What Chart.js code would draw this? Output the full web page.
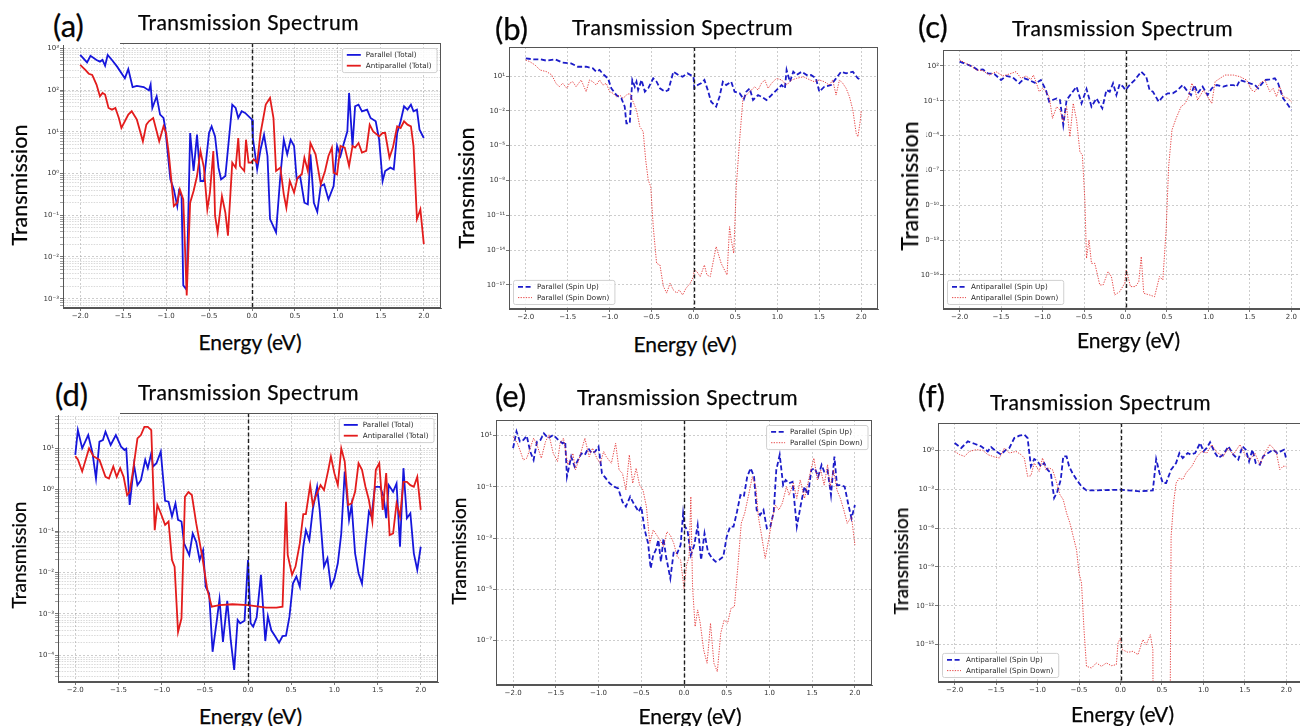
<!DOCTYPE html>
<html>
<head>
<meta charset="utf-8">
<script src="https://cdn.jsdelivr.net/npm/chart.js@4.4.1/dist/chart.umd.min.js"></script>
<style>
  html, body { margin: 0; padding: 0; background: #fff; }
  body { width: 1300px; height: 726px; overflow: hidden; position: relative; }
  canvas { position: absolute; }
  .lbl { position: absolute; white-space: nowrap; line-height: 1; color: #050505;
         font-family: Lato, "Open Sans", sans-serif; box-sizing: border-box;
         -webkit-text-stroke: 0.25px #050505; }
  .letter { background: #fff; }
  .ylab { background: #fff; transform: translate(-50%, -50%) rotate(-90deg); }
  .xlab { transform: translateX(-50%); }
</style>
</head>
<body>
<script>
// Energy axis ticks (eV)
const energyTicks = [-2.0, -1.5, -1.0, -0.5, 0.0, 0.5, 1.0, 1.5, 2.0];

// Transmission curves: [energy (eV), log10 T]
// (a) total transmission
const totalParallelA = [[-2.00,2.84],[-1.92,2.66],[-1.88,2.82],[-1.81,2.72],[-1.77,2.68],[-1.74,2.72],[-1.71,2.58],[-1.68,2.84],[-1.63,2.72],[-1.57,2.56],[-1.48,2.28],[-1.44,2.50],[-1.39,2.07],[-1.34,2.10],[-1.26,2.07],[-1.20,1.99],[-1.18,2.13],[-1.16,1.57],[-1.11,1.85],[-1.07,1.41],[-1.03,1.33],[-1.01,1.09],[-0.95,-0.14],[-0.91,-0.38],[-0.87,-0.78],[-0.85,-0.42],[-0.82,-0.54],[-0.80,-2.68],[-0.77,-2.76],[-0.76,-2.68],[-0.72,0.97],[-0.68,0.06],[-0.64,0.93],[-0.60,-0.18],[-0.56,-0.18],[-0.50,0.97],[-0.47,1.13],[-0.43,0.89],[-0.39,0.14],[-0.36,-0.14],[-0.31,-0.06],[-0.23,1.65],[-0.19,1.57],[-0.16,1.33],[-0.12,1.49],[-0.08,1.45],[0.00,1.29],[0.01,0.85],[0.06,0.10],[0.10,0.58],[0.14,0.93],[0.18,0.42],[0.21,-1.09],[0.28,-1.41],[0.33,-0.06],[0.37,0.81],[0.41,0.46],[0.45,0.81],[0.49,0.66],[0.52,-0.14],[0.56,-0.06],[0.61,-0.70],[0.65,-0.74],[0.68,0.46],[0.72,-0.70],[0.76,-0.92],[0.80,-0.30],[0.84,-0.26],[0.89,-0.62],[0.95,-0.30],[0.99,0.66],[1.03,0.42],[1.07,0.73],[1.11,1.01],[1.13,1.93],[1.17,0.66],[1.20,1.61],[1.24,1.65],[1.28,1.49],[1.34,1.53],[1.38,1.33],[1.44,1.25],[1.48,0.81],[1.52,-0.18],[1.55,0.06],[1.61,0.14],[1.65,0.10],[1.69,0.97],[1.73,1.25],[1.77,1.61],[1.81,1.53],[1.85,1.65],[1.88,1.49],[1.92,1.53],[1.95,1.05],[2.00,0.85]];
const totalAntiA = [[-2.00,2.60],[-1.94,2.48],[-1.90,2.39],[-1.86,2.36],[-1.81,2.13],[-1.77,1.85],[-1.74,1.93],[-1.71,1.89],[-1.67,1.57],[-1.63,1.53],[-1.59,1.57],[-1.55,1.33],[-1.52,1.09],[-1.44,1.41],[-1.40,1.49],[-1.34,1.29],[-1.27,0.77],[-1.23,1.17],[-1.20,1.25],[-1.15,1.33],[-1.11,1.01],[-1.08,0.77],[-1.03,1.13],[-1.00,0.97],[-0.97,0.50],[-0.94,-0.14],[-0.91,-0.78],[-0.87,-0.70],[-0.84,-0.38],[-0.80,-0.62],[-0.76,-2.92],[-0.72,-0.70],[-0.68,-0.42],[-0.64,-0.06],[-0.60,0.54],[-0.56,0.14],[-0.52,-0.86],[-0.49,-0.46],[-0.45,0.54],[-0.43,-1.01],[-0.40,-1.41],[-0.35,-0.54],[-0.31,-0.94],[-0.28,-1.49],[-0.23,0.26],[-0.19,0.14],[-0.16,0.85],[-0.14,0.18],[-0.09,0.06],[-0.07,0.81],[-0.04,0.26],[-0.01,0.26],[0.02,0.34],[0.06,0.26],[0.10,0.97],[0.16,1.65],[0.21,1.81],[0.25,1.33],[0.28,0.06],[0.33,0.14],[0.37,-0.50],[0.40,-0.82],[0.44,-0.18],[0.49,-0.46],[0.53,-0.10],[0.58,-0.02],[0.61,0.38],[0.65,0.06],[0.68,0.73],[0.74,0.46],[0.80,-0.26],[0.85,0.06],[0.89,0.42],[0.93,0.62],[0.95,0.02],[0.99,-0.02],[1.03,0.66],[1.08,0.62],[1.13,0.18],[1.17,0.66],[1.20,0.62],[1.24,0.73],[1.28,0.50],[1.33,0.54],[1.37,1.17],[1.41,1.01],[1.48,0.89],[1.52,0.97],[1.55,0.97],[1.60,0.38],[1.64,0.62],[1.69,1.13],[1.73,1.09],[1.77,1.25],[1.81,1.17],[1.85,1.13],[1.88,0.66],[1.92,-1.09],[1.96,-0.86],[2.00,-1.69]];

// (b) parallel, spin resolved
const parallelUpB = [[-2.00,2.52],[-1.91,2.44],[-1.83,2.44],[-1.75,2.32],[-1.65,2.44],[-1.56,2.15],[-1.46,2.09],[-1.38,1.80],[-1.28,1.80],[-1.20,1.66],[-1.16,1.37],[-1.12,1.52],[-1.08,1.17],[-1.02,0.80],[-0.98,-0.06],[-0.92,-0.64],[-0.86,-0.92],[-0.82,-1.64],[-0.80,-3.08],[-0.76,-3.08],[-0.73,0.66],[-0.70,0.08],[-0.68,0.51],[-0.66,-0.21],[-0.62,0.66],[-0.58,-0.35],[-0.54,-0.06],[-0.48,0.80],[-0.44,0.51],[-0.40,-0.06],[-0.34,-0.35],[-0.30,-0.21],[-0.24,1.37],[-0.18,1.09],[-0.13,0.94],[-0.07,1.23],[0.00,0.94],[0.01,-0.06],[0.05,0.22],[0.09,0.37],[0.13,0.66],[0.17,-0.21],[0.21,-1.21],[0.27,-1.64],[0.31,-0.78],[0.35,0.51],[0.39,0.22],[0.45,0.51],[0.49,-0.35],[0.55,-0.49],[0.60,-1.01],[0.63,-0.35],[0.67,-0.06],[0.71,-1.07],[0.77,-0.64],[0.81,-0.78],[0.87,-1.07],[0.93,-0.64],[0.99,-0.21],[1.05,0.22],[1.09,-0.06],[1.11,1.52],[1.15,0.51],[1.19,1.37],[1.23,1.09],[1.29,1.37],[1.35,1.09],[1.40,1.09],[1.46,0.80],[1.50,-0.35],[1.56,0.08],[1.64,0.22],[1.70,0.80],[1.76,1.37],[1.82,1.23],[1.90,1.37],[1.96,0.80],[2.00,0.66]];
const parallelDownB = [[-2.00,2.38],[-1.95,2.23],[-1.89,1.95],[-1.83,1.52],[-1.75,1.37],[-1.69,1.09],[-1.64,0.37],[-1.60,0.08],[-1.56,0.37],[-1.51,-0.06],[-1.48,0.37],[-1.44,0.51],[-1.40,0.08],[-1.34,0.66],[-1.28,-0.35],[-1.24,0.66],[-1.20,0.51],[-1.16,0.22],[-1.12,0.66],[-1.08,0.22],[-1.04,0.37],[-1.00,-0.35],[-0.96,-0.49],[-0.92,-0.78],[-0.88,-0.64],[-0.84,-0.92],[-0.80,-0.64],[-0.76,-0.49],[-0.72,-1.21],[-0.68,-1.93],[-0.64,-3.36],[-0.60,-3.79],[-0.57,-6.24],[-0.54,-7.96],[-0.51,-8.53],[-0.48,-11.98],[-0.44,-15.14],[-0.40,-15.28],[-0.36,-17.10],[-0.32,-17.70],[-0.28,-16.86],[-0.24,-17.43],[-0.20,-17.70],[-0.17,-17.43],[-0.13,-17.86],[-0.09,-17.29],[-0.04,-16.86],[0.00,-16.28],[0.01,-15.71],[0.04,-15.85],[0.08,-16.28],[0.13,-15.28],[0.16,-16.14],[0.20,-16.28],[0.27,-13.70],[0.33,-15.14],[0.40,-16.14],[0.43,-11.98],[0.45,-13.13],[0.48,-14.27],[0.51,-8.53],[0.55,-4.51],[0.59,-0.92],[0.63,-0.64],[0.67,-0.35],[0.73,0.08],[0.77,-0.21],[0.81,0.37],[0.85,0.66],[0.89,-0.06],[0.93,0.37],[0.99,0.80],[1.05,0.66],[1.11,0.22],[1.17,0.66],[1.23,0.80],[1.31,0.94],[1.39,0.66],[1.44,0.51],[1.50,0.66],[1.56,0.51],[1.62,0.22],[1.66,0.66],[1.70,-0.64],[1.74,0.66],[1.78,0.37],[1.82,-0.06],[1.86,-0.78],[1.90,-1.93],[1.94,-3.94],[1.96,-4.23],[1.99,-2.79],[2.00,-1.93]];

// (c) antiparallel, spin resolved
const antiUpC = [[-2.00,2.37],[-1.92,2.17],[-1.84,1.94],[-1.78,1.66],[-1.72,1.71],[-1.66,1.37],[-1.58,1.31],[-1.50,0.79],[-1.44,1.14],[-1.36,1.02],[-1.28,0.51],[-1.22,0.94],[-1.16,0.79],[-1.08,0.51],[-1.02,0.79],[-0.96,-0.07],[-0.92,-1.07],[-0.88,-0.93],[-0.83,-0.79],[-0.79,-0.93],[-0.75,-3.08],[-0.71,-0.93],[-0.65,-0.35],[-0.59,0.22],[-0.53,-1.22],[-0.47,0.02],[-0.41,-1.50],[-0.35,-0.79],[-0.28,-1.65],[-0.23,-0.07],[-0.19,-0.21],[-0.15,0.51],[-0.11,-0.50],[-0.07,0.45],[-0.03,0.22],[0.00,-0.07],[0.05,0.36],[0.11,0.79],[0.19,1.51],[0.25,1.08],[0.29,-0.07],[0.33,-0.21],[0.40,-1.07],[0.45,-0.64],[0.51,-0.35],[0.57,-0.35],[0.63,-0.07],[0.69,0.36],[0.75,-0.21],[0.79,-0.50],[0.83,0.36],[0.87,-0.35],[0.93,0.22],[0.99,-0.50],[1.04,0.08],[1.10,0.36],[1.18,0.22],[1.24,0.36],[1.30,0.36],[1.34,0.22],[1.38,0.79],[1.44,0.65],[1.50,0.51],[1.56,0.36],[1.60,0.08],[1.68,0.79],[1.74,0.85],[1.80,0.94],[1.84,0.51],[1.90,-0.79],[1.96,-1.36],[2.00,-1.79]];
const antiDownC = [[-2.00,2.52],[-1.94,2.29],[-1.86,2.00],[-1.80,1.66],[-1.72,1.60],[-1.64,1.22],[-1.56,1.51],[-1.48,1.14],[-1.40,1.31],[-1.32,1.51],[-1.26,0.94],[-1.20,1.14],[-1.14,0.85],[-1.11,1.22],[-1.08,0.65],[-1.04,-0.21],[-1.00,0.08],[-0.96,-0.21],[-0.92,-0.64],[-0.88,-2.51],[-0.83,-1.50],[-0.79,-1.79],[-0.75,-2.79],[-0.71,-1.50],[-0.67,-4.09],[-0.63,-1.22],[-0.59,-2.65],[-0.55,-5.38],[-0.52,-5.67],[-0.49,-9.54],[-0.47,-14.57],[-0.44,-12.99],[-0.41,-15.00],[-0.37,-15.00],[-0.31,-16.86],[-0.27,-16.86],[-0.21,-15.71],[-0.17,-16.14],[-0.13,-17.72],[-0.07,-17.44],[-0.01,-16.72],[0.01,-15.57],[0.06,-17.00],[0.12,-17.00],[0.16,-16.58],[0.19,-14.42],[0.22,-17.58],[0.29,-17.72],[0.35,-17.87],[0.41,-16.14],[0.45,-16.43],[0.49,-12.13],[0.52,-6.67],[0.56,-3.51],[0.61,-2.51],[0.67,-1.50],[0.72,-1.22],[0.76,-0.64],[0.80,0.51],[0.83,0.08],[0.87,-0.93],[0.94,-0.07],[1.04,-1.22],[1.08,0.65],[1.14,0.94],[1.20,1.22],[1.30,1.22],[1.38,1.08],[1.46,0.79],[1.52,-0.07],[1.56,-0.21],[1.62,0.51],[1.68,0.79],[1.74,-0.21],[1.78,0.08],[1.82,-0.64],[1.86,0.22],[1.90,-0.64],[1.96,-0.79],[2.00,-1.07]];

// (d) total transmission
const totalParallelD = [[-2.00,0.84],[-1.97,1.44],[-1.92,1.00],[-1.85,1.32],[-1.80,0.88],[-1.76,0.27],[-1.72,1.16],[-1.68,1.20],[-1.65,1.40],[-1.59,1.08],[-1.53,1.32],[-1.47,1.04],[-1.43,0.96],[-1.41,0.99],[-1.37,-0.37],[-1.32,0.60],[-1.28,0.11],[-1.24,0.23],[-1.19,0.72],[-1.16,0.52],[-1.12,0.88],[-1.10,0.56],[-1.06,0.64],[-1.01,0.92],[-0.96,-0.27],[-0.92,-0.29],[-0.88,-0.65],[-0.84,-0.33],[-0.81,-0.73],[-0.77,-0.77],[-0.74,-1.30],[-0.68,-1.58],[-0.64,-1.06],[-0.60,-1.26],[-0.56,-1.70],[-0.52,-1.46],[-0.49,-2.35],[-0.45,-2.51],[-0.41,-3.92],[-0.36,-3.14],[-0.33,-2.65],[-0.29,-3.68],[-0.24,-2.69],[-0.20,-3.64],[-0.16,-4.36],[-0.12,-3.15],[-0.09,-3.23],[-0.04,-3.17],[0.00,-1.70],[0.03,-3.23],[0.06,-3.31],[0.10,-3.09],[0.15,-2.06],[0.20,-3.66],[0.23,-3.06],[0.27,-3.40],[0.32,-3.56],[0.36,-3.70],[0.40,-3.54],[0.44,-3.53],[0.48,-3.07],[0.52,-2.27],[0.56,-2.10],[0.60,-2.35],[0.64,-1.38],[0.67,-0.98],[0.71,-1.22],[0.75,-0.48],[0.80,0.07],[0.83,-0.49],[0.88,-1.86],[0.92,-1.66],[0.96,-2.35],[1.00,-2.15],[1.04,-1.78],[1.08,-1.06],[1.12,0.44],[1.17,-0.73],[1.20,-0.37],[1.24,-1.54],[1.28,-2.02],[1.32,-2.27],[1.36,-1.38],[1.40,-0.53],[1.43,-0.65],[1.47,0.07],[1.53,0.07],[1.57,-0.17],[1.60,-0.69],[1.63,0.11],[1.68,-0.05],[1.72,0.15],[1.76,-1.38],[1.80,0.52],[1.84,-0.69],[1.88,-0.57],[1.92,-1.54],[1.96,-1.94],[2.00,-1.38]];
const totalAntiD = [[-2.00,0.81],[-1.97,0.73],[-1.92,0.44],[-1.84,1.00],[-1.79,0.81],[-1.72,0.72],[-1.65,0.31],[-1.61,0.27],[-1.56,0.56],[-1.52,0.31],[-1.48,0.52],[-1.44,0.31],[-1.40,-0.13],[-1.37,-0.05],[-1.33,0.48],[-1.28,1.24],[-1.24,1.32],[-1.20,1.52],[-1.16,1.52],[-1.12,1.44],[-1.08,-0.98],[-1.05,-0.37],[-1.01,-0.57],[-0.96,-0.85],[-0.92,-0.77],[-0.88,-1.70],[-0.85,-1.86],[-0.81,-3.44],[-0.77,-3.11],[-0.73,-0.17],[-0.69,-0.06],[-0.65,-0.13],[-0.60,-0.81],[-0.53,-1.62],[-0.47,-2.43],[-0.42,-2.83],[-0.33,-2.79],[-0.18,-2.77],[0.00,-2.79],[0.21,-2.85],[0.33,-2.85],[0.40,-2.83],[0.44,-0.29],[0.46,-1.58],[0.51,-2.06],[0.55,-1.86],[0.60,-1.30],[0.64,-0.59],[0.67,-0.59],[0.72,0.11],[0.75,-0.37],[0.79,-0.13],[0.84,0.11],[0.88,-0.01],[0.93,0.48],[0.96,0.80],[1.00,0.40],[1.04,0.11],[1.08,1.00],[1.12,0.68],[1.16,-0.37],[1.20,-0.33],[1.24,-0.05],[1.28,0.64],[1.32,0.48],[1.36,0.07],[1.40,-0.25],[1.44,-0.77],[1.48,0.48],[1.52,0.64],[1.56,-0.49],[1.60,0.40],[1.64,-1.10],[1.68,-1.06],[1.72,-0.33],[1.76,-0.65],[1.80,0.19],[1.84,0.19],[1.88,0.11],[1.92,0.07],[1.96,0.31],[2.00,-0.49]];

// (e) parallel, spin resolved
const parallelUpE = [[-2.00,0.51],[-1.96,1.16],[-1.92,0.77],[-1.88,0.83],[-1.84,0.99],[-1.80,0.38],[-1.76,0.05],[-1.72,0.77],[-1.68,0.83],[-1.64,1.09],[-1.59,0.90],[-1.53,1.03],[-1.47,0.83],[-1.42,0.70],[-1.39,0.77],[-1.37,-0.60],[-1.32,0.18],[-1.28,-0.21],[-1.24,0.05],[-1.20,0.31],[-1.16,0.25],[-1.12,0.51],[-1.08,0.31],[-1.04,0.38],[-1.00,0.57],[-0.96,-0.47],[-0.93,-0.60],[-0.87,-0.86],[-0.82,-0.99],[-0.77,-1.06],[-0.72,-1.58],[-0.68,-1.77],[-0.63,-1.38],[-0.59,-1.64],[-0.53,-1.97],[-0.50,-1.77],[-0.46,-2.68],[-0.42,-3.20],[-0.39,-4.18],[-0.36,-3.66],[-0.33,-3.46],[-0.30,-3.07],[-0.27,-3.92],[-0.24,-3.01],[-0.21,-3.72],[-0.16,-4.57],[-0.12,-3.53],[-0.08,-3.59],[-0.04,-3.27],[-0.01,-2.03],[0.01,-2.55],[0.04,-2.68],[0.08,-3.66],[0.12,-3.27],[0.16,-2.49],[0.20,-3.85],[0.24,-2.81],[0.28,-3.53],[0.33,-3.79],[0.37,-3.92],[0.41,-3.85],[0.46,-3.72],[0.50,-2.94],[0.54,-2.55],[0.58,-2.55],[0.62,-1.97],[0.66,-1.32],[0.70,-1.38],[0.74,-0.60],[0.78,-0.27],[0.82,-0.60],[0.85,-1.90],[0.89,-2.10],[0.93,-1.90],[0.97,-2.62],[1.01,-2.55],[1.05,-1.97],[1.08,-0.34],[1.12,0.25],[1.16,-0.93],[1.19,-0.73],[1.23,-0.86],[1.27,-0.80],[1.32,-2.55],[1.37,-1.64],[1.41,-0.99],[1.45,-1.32],[1.49,-0.34],[1.53,-0.27],[1.57,-0.60],[1.61,-0.14],[1.64,-0.40],[1.68,-0.34],[1.72,-1.32],[1.76,0.18],[1.79,-0.93],[1.83,-0.93],[1.88,-0.99],[1.92,-1.64],[1.96,-2.23],[2.00,-1.71]];
const parallelDownE = [[-2.00,0.96],[-1.95,0.70],[-1.92,0.44],[-1.88,0.05],[-1.84,0.12],[-1.80,0.51],[-1.76,0.90],[-1.72,0.64],[-1.67,0.12],[-1.62,0.77],[-1.58,1.03],[-1.53,0.31],[-1.48,-0.01],[-1.45,0.70],[-1.41,0.90],[-1.36,-0.14],[-1.30,0.31],[-1.27,-0.34],[-1.22,0.18],[-1.16,0.90],[-1.11,0.18],[-1.07,0.51],[-1.02,0.12],[-0.98,-0.08],[-0.94,0.38],[-0.91,0.18],[-0.85,-0.08],[-0.80,0.70],[-0.76,-0.34],[-0.72,-0.47],[-0.68,-1.12],[-0.64,0.25],[-0.60,-0.86],[-0.56,-0.27],[-0.52,-0.93],[-0.48,-1.12],[-0.44,-1.77],[-0.40,-3.20],[-0.36,-2.68],[-0.32,-2.88],[-0.28,-3.07],[-0.24,-3.33],[-0.20,-2.75],[-0.16,-2.88],[-0.12,-3.20],[-0.08,-3.72],[-0.04,-3.85],[0.00,-4.96],[0.03,-4.05],[0.06,-3.72],[0.08,-1.38],[0.10,-4.89],[0.13,-6.45],[0.16,-5.80],[0.19,-6.32],[0.23,-7.36],[0.27,-7.88],[0.31,-6.32],[0.35,-7.88],[0.39,-8.21],[0.43,-6.71],[0.47,-6.19],[0.51,-6.32],[0.55,-5.74],[0.59,-5.67],[0.63,-4.11],[0.67,-2.42],[0.71,-2.03],[0.76,-1.25],[0.80,-0.60],[0.84,-0.99],[0.87,-2.16],[0.91,-2.94],[0.95,-3.79],[0.99,-3.07],[1.03,-2.29],[1.07,-1.71],[1.11,-1.90],[1.15,-1.64],[1.20,-0.99],[1.23,-1.32],[1.28,-0.86],[1.32,-1.45],[1.36,-0.73],[1.41,-1.45],[1.45,-0.86],[1.49,-0.27],[1.52,0.12],[1.56,-0.73],[1.60,-0.34],[1.64,-0.93],[1.68,-0.14],[1.71,-0.99],[1.75,-0.34],[1.79,-1.12],[1.83,-1.45],[1.87,-1.90],[1.91,-2.42],[1.96,-2.16],[2.00,-3.27]];

// (f) antiparallel, spin resolved (spin down vanishes between 0.40 and 0.59 eV)
const antiUpF = [[-2.00,0.57],[-1.92,0.18],[-1.84,0.69],[-1.76,0.51],[-1.68,0.31],[-1.60,-0.08],[-1.56,0.26],[-1.50,-0.08],[-1.44,-0.33],[-1.38,0.05],[-1.34,0.18],[-1.28,0.95],[-1.22,1.13],[-1.16,1.21],[-1.12,0.95],[-1.08,-1.23],[-1.04,-0.67],[-1.00,-0.85],[-0.96,-1.23],[-0.92,-0.98],[-0.88,-1.49],[-0.84,-1.75],[-0.80,-3.68],[-0.76,-3.16],[-0.72,-2.26],[-0.69,-0.46],[-0.65,-0.46],[-0.62,-1.23],[-0.58,-1.75],[-0.53,-2.26],[-0.47,-2.78],[-0.41,-3.09],[-0.29,-3.09],[0.00,-3.04],[0.23,-3.16],[0.39,-3.09],[0.43,-0.67],[0.47,-1.75],[0.51,-2.52],[0.55,-2.52],[0.61,-1.49],[0.67,-0.98],[0.71,-0.21],[0.75,-0.59],[0.81,-0.21],[0.85,-0.33],[0.90,-0.21],[0.96,0.57],[1.00,-0.08],[1.04,0.18],[1.08,0.62],[1.14,-0.21],[1.18,-0.59],[1.24,-0.33],[1.30,0.31],[1.36,-0.33],[1.42,-0.72],[1.47,0.31],[1.51,0.05],[1.55,-0.85],[1.59,0.05],[1.63,-0.98],[1.68,-1.11],[1.72,-0.46],[1.78,-0.21],[1.84,0.05],[1.89,-0.21],[1.93,-0.08],[1.97,0.05],[2.00,-0.72]];
const antiDownF = [[-2.00,-0.08],[-1.94,-0.33],[-1.88,-0.46],[-1.82,-0.08],[-1.74,0.05],[-1.66,0.00],[-1.60,-0.33],[-1.52,-0.51],[-1.46,-0.59],[-1.40,0.18],[-1.34,-0.21],[-1.26,-0.08],[-1.20,-0.33],[-1.16,-0.59],[-1.12,-2.00],[-1.08,-1.96],[-1.04,-0.98],[-0.98,-1.62],[-0.94,-0.59],[-0.90,-1.49],[-0.86,-1.36],[-0.82,-1.49],[-0.78,-2.26],[-0.73,-3.42],[-0.69,-3.81],[-0.65,-4.84],[-0.61,-5.61],[-0.57,-6.64],[-0.53,-7.67],[-0.50,-9.47],[-0.47,-10.24],[-0.44,-13.84],[-0.41,-16.67],[-0.35,-16.80],[-0.29,-16.41],[-0.23,-16.67],[-0.17,-16.41],[-0.11,-16.62],[-0.05,-16.54],[-0.03,-14.87],[0.00,-14.48],[0.02,-15.38],[0.09,-15.59],[0.15,-15.51],[0.21,-15.77],[0.27,-14.61],[0.31,-15.00],[0.36,-14.23],[0.39,-15.38],[0.40,-30],[0.59,-30],[0.61,-6.64],[0.64,-4.06],[0.67,-2.52],[0.71,-2.14],[0.75,-2.26],[0.79,-1.75],[0.86,-1.23],[0.92,-0.51],[0.98,-0.08],[1.04,-0.21],[1.10,0.44],[1.16,-0.15],[1.24,-0.46],[1.30,0.18],[1.36,-0.33],[1.44,0.44],[1.50,-0.33],[1.56,-0.72],[1.62,-0.21],[1.68,-1.11],[1.74,-0.21],[1.80,0.44],[1.84,0.18],[1.88,-0.21],[1.92,-1.49],[1.96,-1.23],[2.00,-1.23]];

// Labelled decades on each transmission axis
const decadesA = [3, 2, 1, 0, -1, -2, -3];
const decadesB = [1, -2, -5, -8, -11, -14, -17];
const decadesC = [2, -1, -4, -7, -10, -13, -16];
const decadesD = [1, 0, -1, -2, -3, -4];
const decadesE = [1, -1, -3, -5, -7];
const decadesF = [0, -3, -6, -9, -12, -15];

// ---------- styling ----------
const BLUE = '#1616dc', RED = '#e31c1c';
const LINE_STYLES = {
  solidBlue:  { borderColor: BLUE, borderWidth: 1.8, borderDash: [] },
  solidRed:   { borderColor: RED,  borderWidth: 1.8, borderDash: [] },
  dashBlue:   { borderColor: '#1c1cc8', borderWidth: 1.8, borderDash: [5, 2.6] },
  dotRed:     { borderColor: 'rgba(226,40,40,0.85)', borderWidth: 1.0, borderDash: [1.3, 1.3] }
};
const TICK_FONT = { family: 'DejaVu Sans', size: 7 };
const TICK_COLOR = '#333';
const AXW = 50, AXH = 20, PAD_T = 12, PAD_R = 12;

const SUP = { '-': '\u207B', '0': '\u2070', '1': '\u00B9', '2': '\u00B2', '3': '\u00B3',
              '4': '\u2074', '5': '\u2075', '6': '\u2076', '7': '\u2077', '8': '\u2078', '9': '\u2079' };
const powerLabel = e => '10' + String(e).split('').map(c => SUP[c]).join('');
const energyLabel = v => (v < 0 ? '\u2212' : '') + Math.abs(v).toFixed(1);

// Frame, and the dashed line marking the Fermi level at 0 eV
const framePlugin = {
  id: 'frame',
  afterDatasetsDraw(chart) {
    const { ctx, chartArea: a, scales: { x } } = chart;
    ctx.save();
    const x0 = Math.round(x.getPixelForValue(0)) + 0.5;
    ctx.strokeStyle = '#1e1e1e';
    ctx.lineWidth = 1.4;
    ctx.setLineDash([4, 2.5]);
    ctx.beginPath(); ctx.moveTo(x0, a.top); ctx.lineTo(x0, a.bottom); ctx.stroke();
    ctx.setLineDash([]);
    ctx.strokeStyle = '#555';
    ctx.lineWidth = 1;
    ctx.strokeRect(Math.round(a.left) + 0.5, Math.round(a.top) + 0.5,
                   Math.round(a.right - a.left) - 1, Math.round(a.bottom - a.top) - 1);
    ctx.restore();
  }
};

// Boxed legend placed inside the plotting area
const innerLegend = {
  id: 'innerLegend',
  afterDraw(chart, args, opts) {
    const { ctx, chartArea: a } = chart;
    const items = chart.data.datasets;
    ctx.save();
    ctx.font = '7.2px "DejaVu Sans"';
    const textW = Math.max(...items.map(d => ctx.measureText(d.label).width));
    const rowH = 10.8, padX = 5, sample = 14, gap = 5;
    const bw = padX + sample + gap + textW + padX;
    const bh = items.length * rowH + 2.5;
    let bx, by;
    if (opts.corner === 'ur') { bx = a.right - 4.5 - bw; by = a.top + 5; }
    else { bx = a.left + 4; by = a.bottom - 5 - bh; }
    ctx.fillStyle = 'rgba(255,255,255,0.85)';
    ctx.strokeStyle = '#d0d0d0';
    ctx.lineWidth = 1;
    ctx.beginPath();
    if (ctx.roundRect) ctx.roundRect(bx + 0.5, by + 0.5, bw, bh, 2); else ctx.rect(bx + 0.5, by + 0.5, bw, bh);
    ctx.fill(); ctx.stroke();
    items.forEach((d, i) => {
      const cy = by + 1.5 + rowH * (i + 0.5);
      ctx.strokeStyle = d.borderColor;
      ctx.lineWidth = d.borderWidth;
      ctx.setLineDash(d.borderDash || []);
      ctx.beginPath(); ctx.moveTo(bx + padX, cy); ctx.lineTo(bx + padX + sample, cy); ctx.stroke();
      ctx.setLineDash([]);
      ctx.fillStyle = '#2a2a2a';
      ctx.textBaseline = 'middle';
      ctx.fillText(d.label, bx + padX + sample + gap, cy + 0.5);
    });
    ctx.restore();
  }
};

// ---------- panels ----------
const panels = [
  { L: 63, T: 43, R: 441, B: 308, yLo: -3.19, yHi: 3.126, decades: decadesA, minor: true, legend: 'ur',
    series: [[totalParallelA, 'Parallel (Total)', 'solidBlue'], [totalAntiA, 'Antiparallel (Total)', 'solidRed']],
    letter: { text: '(a)', x: 50, y: 5, w: 70, h: 39.5, px: 3, ptop: 5 },
    title: { x: 138, cap: 15 }, ylab: { cx: 19.5, cy: 185, size: 21.5, cover: 0 }, xlab: { cx: 250, cap: 335 } },
  { L: 509, T: 47, R: 878, B: 309, yLo: -19.07, yHi: 3.5, decades: decadesB, minor: false, legend: 'll',
    series: [[parallelUpB, 'Parallel (Spin Up)', 'dashBlue'], [parallelDownB, 'Parallel (Spin Down)', 'dotRed']],
    letter: { text: '(b)', x: 492, y: 8, w: 44, h: 36, px: 3, ptop: 4.5 },
    title: { x: 572, cap: 19.5 }, ylab: { cx: 466.5, cy: 188, size: 21.5, cover: 0 }, xlab: { cx: 685, cap: 337 } },
  { L: 943, T: 50, R: 1308, B: 309, yLo: -18.93, yHi: 3.378, decades: decadesC, minor: false, legend: 'll',
    series: [[antiUpC, 'Antiparallel (Spin Up)', 'dashBlue'], [antiDownC, 'Antiparallel (Spin Down)', 'dotRed']],
    letter: { text: '(c)', x: 915, y: 8, w: 42, h: 36, px: 3, ptop: 2.8 },
    title: { x: 1012, cap: 20.7 }, ylab: { cx: 909.5, cy: 186, size: 23, cover: 5 }, xlab: { cx: 1128.5, cap: 333 } },
  { L: 58, T: 413, R: 438, B: 682, yLo: -4.65, yHi: 1.854, decades: decadesD, minor: true, legend: 'ur',
    series: [[totalParallelD, 'Parallel (Total)', 'solidBlue'], [totalAntiD, 'Antiparallel (Total)', 'solidRed']],
    letter: { text: '(d)', x: 50, y: 372, w: 70, h: 42.5, px: 5, ptop: 6.5 },
    title: { x: 138, cap: 385 }, ylab: { cx: 17.5, cy: 555, size: 19, cover: 0 }, xlab: { cx: 250.5, cap: 708.3 } },
  { L: 496, T: 420, R: 872, B: 685, yLo: -8.73, yHi: 1.61, decades: decadesE, minor: false, legend: 'ur',
    series: [[parallelUpE, 'Parallel (Spin Up)', 'dashBlue'], [parallelDownE, 'Parallel (Spin Down)', 'dotRed']],
    letter: { text: '(e)', x: 492, y: 376, w: 44, h: 36, px: 3, ptop: 3.8 },
    title: { x: 577, cap: 390 }, ylab: { cx: 457.5, cy: 551, size: 19, cover: 0 }, xlab: { cx: 690, cap: 709 } },
  { L: 938, T: 423, R: 1303, B: 682, yLo: -17.88, yHi: 2.11, decades: decadesF, minor: false, legend: 'll',
    series: [[antiUpF, 'Antiparallel (Spin Up)', 'dashBlue'], [antiDownF, 'Antiparallel (Spin Down)', 'dotRed']],
    letter: { text: '(f)', x: 915, y: 376, w: 36, h: 36, px: 3, ptop: 3.8 },
    title: { x: 990, cap: 395 }, ylab: { cx: 900.5, cy: 561, size: 19, cover: 7 }, xlab: { cx: 1122.5, cap: 707 } }
];

function logTicks(p) {
  const lo = 10 ** p.yLo, hi = 10 ** p.yHi;
  const ticks = p.decades.map(e => ({ value: 10 ** e, major: true, exp: e }));
  if (p.minor) {
    for (let n = Math.floor(p.yLo); n <= Math.ceil(p.yHi); n++) {
      for (let k = 2; k <= 9; k++) {
        const v = k * 10 ** n;
        if (v > lo && v < hi) ticks.push({ value: v, major: false });
      }
    }
  }
  return ticks.sort((u, w) => u.value - w.value);
}

function buildChart(p) {
  const canvas = document.createElement('canvas');
  const w = (p.R - p.L) + AXW + PAD_R, h = (p.B - p.T) + PAD_T + AXH;
  canvas.width = w; canvas.height = h;
  canvas.style.width = w + 'px'; canvas.style.height = h + 'px';
  canvas.style.left = (p.L - AXW) + 'px'; canvas.style.top = (p.T - PAD_T) + 'px';
  document.body.appendChild(canvas);

  const datasets = p.series.map(([pts, label, style], i) => Object.assign({
    label,
    data: pts.map(([e, lg]) => ({ x: e, y: 10 ** lg })),
    pointRadius: 0, tension: 0, fill: false,
    order: i === 0 ? 1 : 0
  }, LINE_STYLES[style]));

  new Chart(canvas, {
    type: 'line',
    data: { datasets },
    options: {
      responsive: false, animation: false, devicePixelRatio: 1,
      layout: { padding: { left: 0, top: PAD_T, right: PAD_R, bottom: 0 } },
      plugins: { legend: { display: false }, tooltip: { enabled: false }, innerLegend: { corner: p.legend } },
      scales: {
        x: {
          type: 'linear', min: -2.2, max: 2.2,
          afterBuildTicks: s => { s.ticks = energyTicks.map(v => ({ value: v })); },
          afterFit: s => { s.height = AXH; },
          ticks: { callback: v => energyLabel(v), font: TICK_FONT, color: TICK_COLOR,
                   padding: 1, autoSkip: false, maxRotation: 0, minRotation: 0 },
          grid: { color: 'rgba(150,150,150,0.6)', lineWidth: 0.8, tickLength: 3,
                  tickColor: '#555', tickBorderDash: [] },
          border: { display: true, color: '#555', width: 1, dash: [2, 2] }
        },
        y: {
          type: 'logarithmic', min: 10 ** p.yLo, max: 10 ** p.yHi,
          afterBuildTicks: s => { s.ticks = logTicks(p); },
          afterFit: s => { s.width = AXW; },
          ticks: {
            callback: (v, i, ticks) => ticks[i].major ? powerLabel(ticks[i].exp) : '',
            font: TICK_FONT, color: TICK_COLOR, padding: 1, autoSkip: false
          },
          grid: {
            color: c => (c.tick && c.tick.major) ? 'rgba(150,150,150,0.6)' : 'rgba(150,150,150,0.45)',
            lineWidth: 0.8, tickLength: 3,
            tickColor: c => (c.tick && c.tick.major) ? '#555' : '#888', tickBorderDash: []
          },
          border: { display: true, color: '#555', width: 1,
                    dash: c => (c.tick && c.tick.major) ? [2, 2] : [1.5, 1.2] }
        }
      }
    },
    plugins: [framePlugin, innerLegend]
  });
}

// Large captions (Lato metrics: baseline 0.887em, cap height 0.717em below line top)
const CAP_OFF = 0.887 - 0.717;
function addText(cls, text, css) {
  const d = document.createElement('div');
  d.className = 'lbl ' + cls;
  d.textContent = text;
  Object.assign(d.style, css);
  document.body.appendChild(d);
  return d;
}

panels.forEach(buildChart);

panels.forEach(p => {
  const L = p.letter;
  addText('letter', L.text, { left: L.x + 'px', top: L.y + 'px', width: L.w + 'px', height: L.h + 'px',
    paddingLeft: L.px + 'px', paddingTop: L.ptop + 'px', fontSize: '31px' });
  addText('title', 'Transmission Spectrum', { left: p.title.x + 'px',
    top: (p.title.cap - CAP_OFF * 21) + 'px', fontSize: '21px', letterSpacing: '0.45px' });
  const Y = p.ylab;
  addText('ylab', 'Transmission', { left: (Y.cx + Y.cover / 2) + 'px', top: Y.cy + 'px',
    fontSize: Y.size + 'px', paddingBottom: Y.cover + 'px' });
  addText('xlab', 'Energy (eV)', { left: p.xlab.cx + 'px',
    top: (p.xlab.cap - CAP_OFF * 21) + 'px', fontSize: '21px' });
});
</script>
</body>
</html>
